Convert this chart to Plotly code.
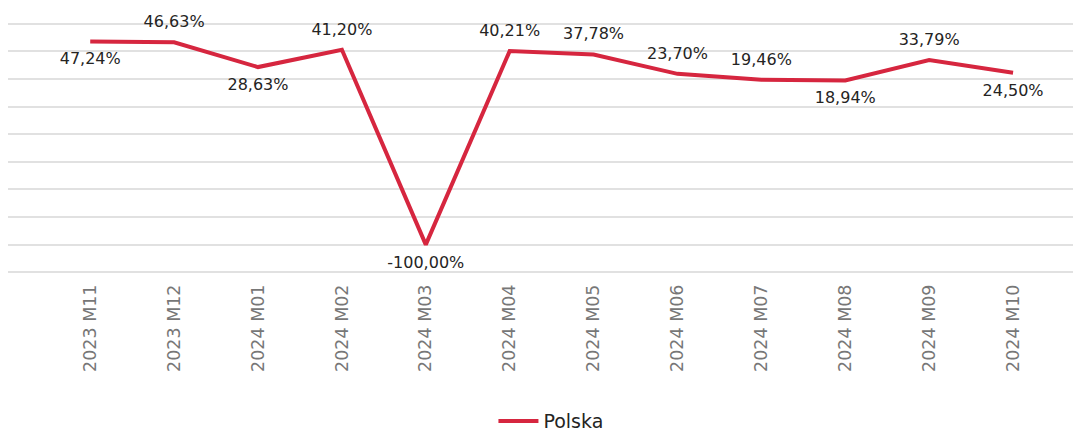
import plotly.graph_objects as go

categories = ["2023 M11", "2023 M12", "2024 M01", "2024 M02", "2024 M03", "2024 M04",
              "2024 M05", "2024 M06", "2024 M07", "2024 M08", "2024 M09", "2024 M10"]
values = [47.24, 46.63, 28.63, 41.20, -100.00, 40.21, 37.78, 23.70, 19.46, 18.94, 33.79, 24.50]
label_pos = ["bottom center", "top center", "bottom center", "top center", "bottom center",
             "top center", "top center", "top center", "top center", "bottom center",
             "top center", "bottom center"]
series_name = "Polska"

labels = [f"{v:.2f}%".replace(".", ",") for v in values]

fig = go.Figure()
fig.add_trace(go.Scatter(
    x=categories, y=values, name=series_name,
    mode="lines+markers+text",
    text=labels, textposition=label_pos,
    textfont=dict(family="DejaVu Sans", size=16, color="#252423"),
    line=dict(color="#D6263F", width=4),
    marker=dict(size=16, color="rgba(0,0,0,0)"),
    cliponaxis=False,
))

# page body has an 8px default margin, so the figure is 8px smaller than the window
fig.update_layout(
    width=1073, height=423,
    margin=dict(l=0, r=0, t=13, b=155.5, autoexpand=False),
    paper_bgcolor="white", plot_bgcolor="white",
    showlegend=True,
    legend=dict(orientation="h", x=0.506, xanchor="center", y=-0.575, yanchor="middle",
                font=dict(family="DejaVu Sans", size=19, color="#252423"), itemwidth=40),
    xaxis=dict(type="category", range=[-0.98, 11.81], tickangle=-90, automargin=False,
               tickfont=dict(family="DejaVu Sans", size=17.5, color="#777777"),
               showgrid=False, showline=False, zeroline=False, ticklabelstandoff=5),
    yaxis=dict(range=[-122, 62], dtick=20, tick0=0, showticklabels=False, automargin=False,
               showgrid=True, gridcolor="#E1E1E1", gridwidth=2, zeroline=False, showline=False),
)

fig.write_html("out.html")
